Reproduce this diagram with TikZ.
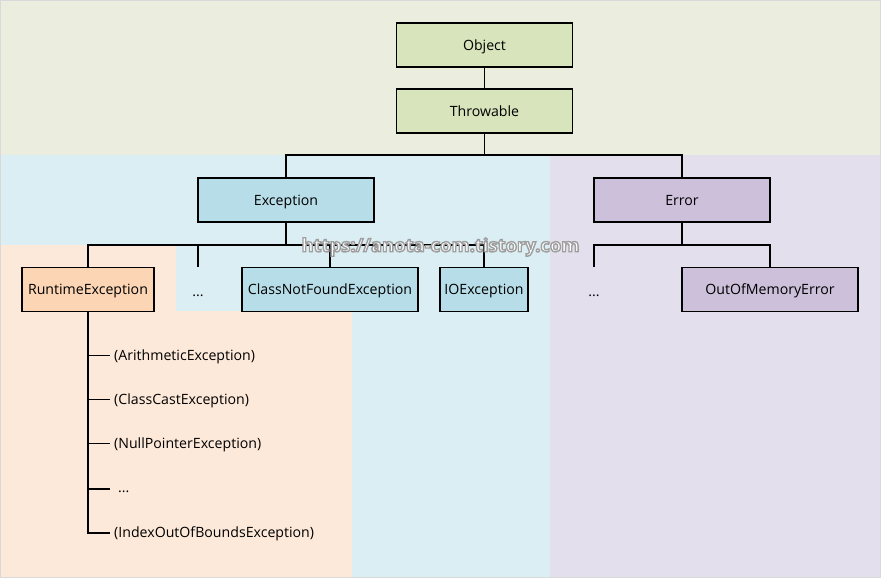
\documentclass[tikz,border=0pt]{standalone}
\usepackage{fontspec}
\setmainfont{Open Sans}
\begin{document}
\begin{tikzpicture}[x=1bp,y=-1bp,
  box/.style={draw=black,line width=1.1bp,minimum width=176bp,minimum height=44bp,inner sep=0pt,text height=10.2bp,text depth=0bp,font=\fontsize{14.2}{16}\selectfont},
  lbl/.style={inner sep=0pt,text height=10.2bp,text depth=0bp,font=\fontsize{14.2}{16}\selectfont},
  conn/.style={draw=black,line width=1.1bp}]
\definecolor{bggreen}{HTML}{EBEEDF}
\definecolor{bxgreen}{HTML}{D7E4BC}
\definecolor{bgblue}{HTML}{DAEEF3}
\definecolor{bxblue}{HTML}{B7DDE8}
\definecolor{bgorange}{HTML}{FDE9D9}
\definecolor{bxorange}{HTML}{FCD5B4}
\definecolor{bgpurple}{HTML}{E4DFEC}
\definecolor{bxpurple}{HTML}{CCC0DA}
\definecolor{frame}{HTML}{D9D9D9}
\useasboundingbox (0,0) rectangle (881,578);
% backgrounds
\fill[bggreen] (0,0) rectangle (881,155);
\fill[bgblue] (0,155) rectangle (550,578);
\fill[bgpurple] (550,155) rectangle (881,578);
\fill[bgorange] (0,245) -- (176,245) -- (176,311) -- (352,311) -- (352,578) -- (0,578) -- cycle;
\draw[frame,line width=1.5bp] (0.75,0.75) rectangle (880.25,577.25);
% nodes
\node[box,fill=bxgreen] (obj) at (484.5,45) {Object};
\node[box,fill=bxgreen] (thr) at (484.5,111) {Throwable};
\node[box,fill=bxblue] (exc) at (286,200) {Exception};
\node[box,fill=bxpurple] (err) at (682,200) {Error};
\node[box,fill=bxorange,minimum width=132bp] (rte) at (88,289.5) {RuntimeException};
\node[lbl] (edots) at (198,291) {...};
\node[box,fill=bxblue] (cnf) at (330,289.5) {ClassNotFoundException};
\node[box,fill=bxblue,minimum width=88bp] (ioe) at (484,289.5) {IOException};
\node[lbl] (rdots) at (594,291) {...};
\node[box,fill=bxpurple] (oom) at (770,289.5) {OutOfMemoryError};
% coordinates
\coordinate (tjoin) at (484.5,155);
\coordinate (ejoin) at (286,245);
\coordinate (rjoin) at (682,245);
\coordinate (edtop) at (198,267);
\coordinate (rdtop) at (594,267);
% connectors
\draw[conn] (obj.south) -- (thr.south |- obj.south) -- (thr.north);
\draw[conn] (thr.south) -- (tjoin);
\draw[conn] (exc.north) -- (exc.north |- tjoin) -- (err.north |- tjoin) -- (err.north);
\draw[conn] (exc.south) -- (ejoin);
\draw[conn] (rte.north) -- (rte.north |- ejoin) -- (ioe.north |- ejoin) -- (ioe.north);
\draw[conn] (edtop |- ejoin) -- (edtop);
\draw[conn] (cnf.north |- ejoin) -- (cnf.north);
\draw[conn] (err.south) -- (rjoin);
\draw[conn] (rdtop) -- (rdtop |- rjoin) -- (oom.north |- rjoin) -- (oom.north);
% runtime list
\node[lbl,anchor=west] (ae) at (114,355.5) {(ArithmeticException)};
\node[lbl,anchor=west] (cce) at (114,399.5) {(ClassCastException)};
\node[lbl,anchor=west] (npe) at (114,443.5) {(NullPointerException)};
\node[lbl,anchor=west] (ldots) at (118,487) {...};
\node[lbl,anchor=west] (iob) at (114,532.5) {(IndexOutOfBoundsException)};
\coordinate (lend) at (88,533);
\draw[conn] (rte.south) -- (lend) -- (110,533);
\draw[conn] (88,355.5) -- (110,355.5);
\draw[conn] (88,399.5) -- (110,399.5);
\draw[conn] (88,443.5) -- (110,443.5);
\draw[conn] (88,489) -- (110,489);
% watermark
\node[inner sep=0pt,text=white,font=\bfseries\fontsize{18.5}{20}\selectfont] (wm) at (440.5,247)
  {\special{pdf:literal direct 2 Tr 1.4 w 0.62 0.62 0.62 RG}https://anota-com.tistory.com\special{pdf:literal direct 0 Tr}};
\end{tikzpicture}
\end{document}
